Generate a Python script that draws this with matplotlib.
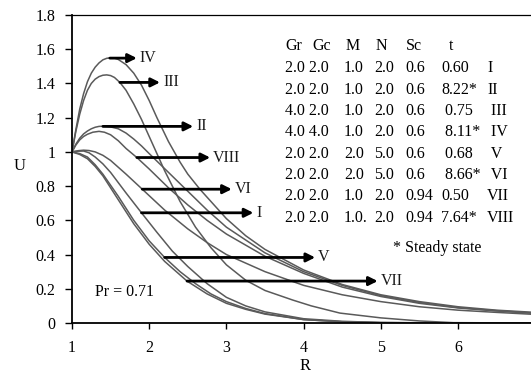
import matplotlib
matplotlib.use("Agg")
import matplotlib.pyplot as plt

plt.rcParams['font.family'] = ['Liberation Serif', 'DejaVu Serif']

# ---------------- data ----------------
x_IV = [1, 1.05, 1.1, 1.15, 1.2, 1.25, 1.3, 1.35, 1.4, 1.45, 1.5, 1.55, 1.6, 1.7, 1.8, 1.9, 2.0, 2.1, 2.25, 2.4, 2.5, 2.66, 2.8, 3.0, 3.25, 3.5, 4.0, 4.5, 5.0, 5.5, 6.0, 6.5, 7.0]
u_IV = [1, 1.13, 1.25, 1.34, 1.41, 1.46, 1.495, 1.52, 1.538, 1.547, 1.55, 1.548, 1.54, 1.51, 1.46, 1.39, 1.30, 1.20, 1.06, 0.94, 0.87, 0.78, 0.71, 0.61, 0.51, 0.43, 0.31, 0.225, 0.165, 0.125, 0.095, 0.075, 0.062]

x_III = [1, 1.05, 1.1, 1.15, 1.2, 1.25, 1.3, 1.35, 1.4, 1.45, 1.5, 1.55, 1.62, 1.7, 1.8, 1.9, 2.0, 2.1, 2.2, 2.4, 2.6, 2.8, 3.0, 3.25, 3.5, 3.86, 4.1, 4.47, 5.0, 5.5, 5.94, 7.0]
u_III = [1, 1.12, 1.22, 1.30, 1.36, 1.40, 1.425, 1.44, 1.448, 1.45, 1.446, 1.435, 1.406, 1.36, 1.28, 1.19, 1.09, 0.99, 0.89, 0.71, 0.56, 0.44, 0.34, 0.25, 0.19, 0.134, 0.10, 0.058, 0.03, 0.012, 0.002, 0.0]

x_II = [1, 1.05, 1.1, 1.15, 1.2, 1.25, 1.3, 1.35, 1.4, 1.5, 1.6, 1.7, 1.8, 1.9, 2.0, 2.25, 2.5, 2.75, 3.0, 3.5, 4.0, 4.5, 5.0, 5.5, 6.0, 6.5, 7.0]
u_II = [1, 1.045, 1.08, 1.105, 1.122, 1.135, 1.144, 1.149, 1.15, 1.146, 1.135, 1.11, 1.075, 1.035, 0.99, 0.88, 0.77, 0.66, 0.56, 0.41, 0.30, 0.22, 0.16, 0.12, 0.09, 0.072, 0.058]

x_VIII = [1, 1.05, 1.1, 1.15, 1.2, 1.27, 1.35, 1.42, 1.5, 1.6, 1.7, 1.84, 2.0, 2.25, 2.5, 2.75, 3.0, 3.5, 4.0, 4.5, 5.0, 5.5, 6.0, 6.5, 7.0]
u_VIII = [1, 1.04, 1.07, 1.09, 1.103, 1.115, 1.12, 1.115, 1.10, 1.065, 1.02, 0.967, 0.90, 0.79, 0.69, 0.60, 0.52, 0.39, 0.29, 0.21, 0.155, 0.115, 0.088, 0.07, 0.056]

x_VI = [1, 1.08, 1.15, 1.22, 1.3, 1.4, 1.5, 1.7, 1.91, 2.2, 2.5, 2.75, 3.0, 3.5, 4.0, 4.5, 5.0, 5.5, 6.0, 6.5, 7.0]
u_VI = [1, 1.007, 1.01, 1.008, 1.0, 0.98, 0.95, 0.87, 0.782, 0.66, 0.55, 0.47, 0.40, 0.30, 0.22, 0.165, 0.125, 0.095, 0.075, 0.062, 0.05]

x_I = [1, 1.08, 1.15, 1.22, 1.3, 1.4, 1.5, 1.7, 1.9, 2.1, 2.3, 2.5, 2.75, 3.0, 3.25, 3.5, 4.0, 4.5, 5.0, 6.0, 7.0]
u_I = [1, 1.004, 1.005, 0.995, 0.97, 0.93, 0.88, 0.76, 0.644, 0.53, 0.42, 0.33, 0.23, 0.15, 0.10, 0.065, 0.025, 0.01, 0.003, 0.0, 0.0]

x_V = [1, 1.1, 1.2, 1.3, 1.4, 1.6, 1.8, 2.0, 2.2, 2.4, 2.6, 2.8, 3.0, 3.25, 3.5, 4.0, 4.5, 5.0, 6.0, 7.0]
u_V = [1, 0.99, 0.97, 0.925, 0.87, 0.74, 0.60, 0.48, 0.383, 0.30, 0.23, 0.17, 0.125, 0.085, 0.055, 0.02, 0.007, 0.002, 0.0, 0.0]

x_VII = [1, 1.1, 1.2, 1.3, 1.4, 1.6, 1.8, 2.0, 2.2, 2.49, 2.75, 3.0, 3.25, 3.5, 4.0, 4.5, 5.0, 6.0, 7.0]
u_VII = [1, 0.985, 0.96, 0.915, 0.86, 0.72, 0.58, 0.46, 0.36, 0.245, 0.17, 0.115, 0.08, 0.052, 0.02, 0.007, 0.002, 0.0, 0.0]

curves = [(x_I, u_I), (x_II, u_II), (x_III, u_III), (x_IV, u_IV),
          (x_V, u_V), (x_VI, u_VI), (x_VII, u_VII), (x_VIII, u_VIII)]

labels = ['I', 'II', 'III', 'IV', 'V', 'VI', 'VII', 'VIII']
# arrow start (on curve), arrow end, y level
arrow_x0 = [1.90, 1.40, 1.62, 1.49, 2.20, 1.91, 2.49, 1.84]
arrow_x1 = [3.35, 2.57, 2.14, 1.84, 4.15, 3.07, 4.96, 2.79]
arrow_y = [0.644, 1.149, 1.406, 1.548, 0.383, 0.782, 0.245, 0.967]

x_ticks = [1, 2, 3, 4, 5, 6]
y_ticks = [0, 0.2, 0.4, 0.6, 0.8, 1, 1.2, 1.4, 1.6, 1.8]
y_ticklabels = ['0', '0.2', '0.4', '0.6', '0.8', '1', '1.2', '1.4', '1.6', '1.8']

table_header = ['Gr', 'Gc', 'M', 'N', 'Sc', 't']
table_rows = [
    ['2.0 2.0', '1.0', '2.0', '0.6', '0.60', 'I'],
    ['2.0 2.0', '1.0', '2.0', '0.6', '8.22*', 'II'],
    ['4.0 2.0', '1.0', '2.0', '0.6', ' 0.75', ' III'],
    ['4.0 4.0', '1.0', '2.0', '0.6', ' 8.11*', ' IV'],
    ['2.0 2.0', '2.0', '5.0', '0.6', ' 0.68', ' V'],
    ['2.0 2.0', '2.0', '5.0', '0.6', ' 8.66*', ' VI'],
    ['2.0 2.0', '1.0', '2.0', '0.94', '0.50', 'VII'],
    ['2.0 2.0', '1.0.', '2.0', '0.94', '7.64*', 'VIII'],
]

# ---------------- figure ----------------
W, H = 531, 381
fig = plt.figure(figsize=(W / 100, H / 100), dpi=100)
ax_left, ax_right, ax_bottom, ax_top = 72, 535.2, 323, 15
ax = fig.add_axes([ax_left / W, (H - ax_bottom) / H,
                   (ax_right - ax_left) / W, (ax_bottom - ax_top) / H])

for xs, us in curves:
    ax.plot(xs, us, color='#5a5a5a', lw=1.1)

for lab, x0, x1, y in zip(labels, arrow_x0, arrow_x1, arrow_y):
    ax.annotate('', xy=(x1, y), xytext=(x0, y),
                arrowprops=dict(arrowstyle='-|>', color='black', lw=2.0,
                                mutation_scale=13, shrinkA=0, shrinkB=0))
    ax.text(x1 + 0.04, y, lab, fontsize=11.5, va='center', ha='left', color='#1a1a1a')

ax.set_xlim(1, 7)
ax.set_ylim(0, 1.8)
ax.set_xticks(x_ticks)
ax.set_xticklabels([str(t) for t in x_ticks])
ax.set_yticks(y_ticks)
ax.set_yticklabels(y_ticklabels)
ax.tick_params(axis='y', direction='out', length=5, width=1, pad=7, labelsize=11.5)
ax.tick_params(axis='x', direction='out', length=4, width=1, pad=8, labelsize=11.5)
for s in ['left', 'bottom']:
    ax.spines[s].set_linewidth(1.3)
ax.spines['top'].set_linewidth(0.9)
ax.spines['right'].set_visible(False)

fig.text(20 / W, 1 - 166 / H, 'U', fontsize=12, ha='center', va='center')
fig.text(305 / W, 1 - 366 / H, 'R', fontsize=12, ha='center', va='center')
fig.text(95 / W, 1 - 292 / H, 'Pr = 0.71', fontsize=11.5, ha='left', va='center')

# table text
hdr_x = [285, 312, 346, 376, 406, 449]
for h, hx in zip(table_header, hdr_x):
    fig.text(hx / W, 1 - 46 / H, h, fontsize=11.5, ha='left', va='center')
col_x = [285, 344, 374, 405, 441, 487]
row_y0, row_dy = 68.5, 21.3
for i, row in enumerate(table_rows):
    yy = row_y0 + i * row_dy
    for txt, cx in zip(row, col_x):
        fig.text(cx / W, 1 - yy / H, txt, fontsize=11.5, ha='left', va='center')
fig.text(393 / W, 1 - 248 / H, '* Steady state', fontsize=11.5, ha='left', va='center')

fig.savefig('out.png', dpi=100)
